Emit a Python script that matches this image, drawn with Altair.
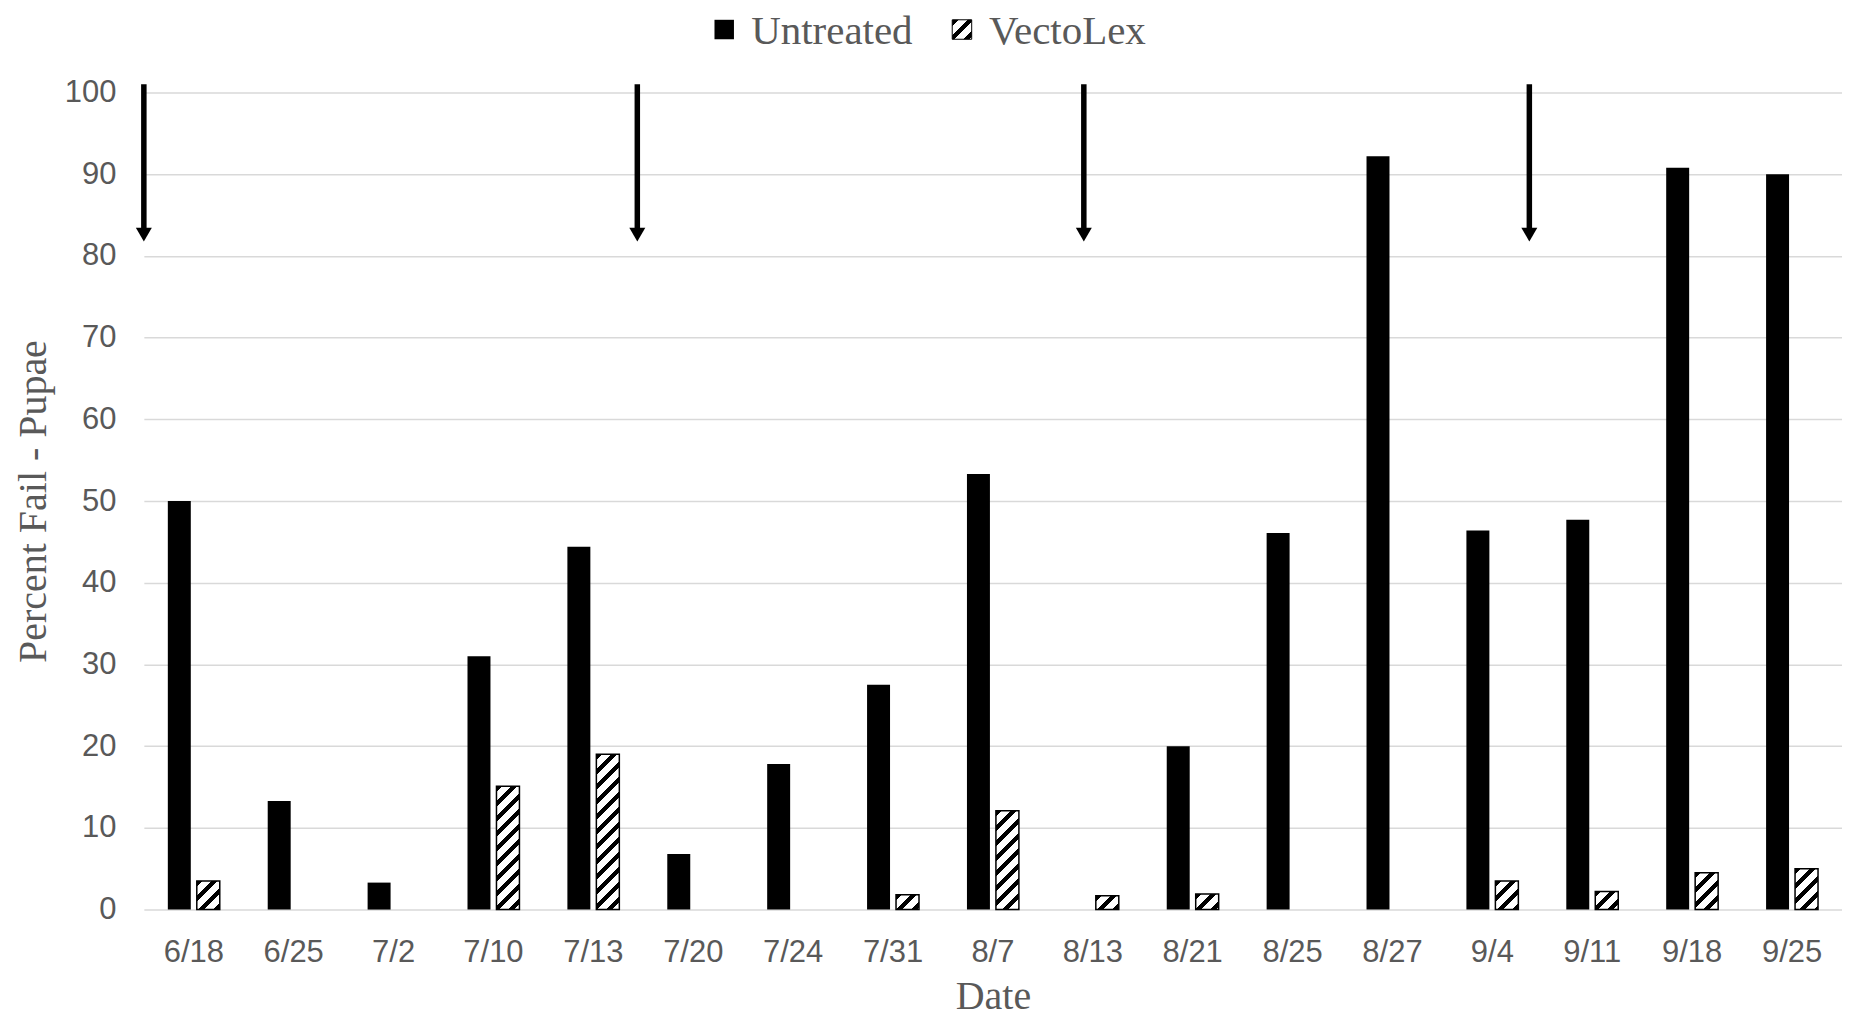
import altair as alt
import pandas as pd

# ---- data ----
dates = ["6/18", "6/25", "7/2", "7/10", "7/13", "7/20", "7/24", "7/31", "8/7",
         "8/13", "8/21", "8/25", "8/27", "9/4", "9/11", "9/18", "9/25"]
untreated = [50.0, 13.3, 3.3, 31.0, 44.4, 6.8, 17.8, 27.5, 53.3,
             0.0, 20.0, 46.1, 92.2, 46.4, 47.7, 90.8, 90.0]
vectolex = [3.5, 0.0, 0.0, 15.1, 19.0, 0.0, 0.0, 1.8, 12.1,
            1.7, 1.9, 0.0, 0.0, 3.5, 2.2, 4.5, 5.0]
series = ["Untreated", "VectoLex"]
# treatment arrows: position in category units from the left edge of the axis
arrow_pos = [0.0, 4.94, 9.41, 13.87]
arrow_top = 101.0
arrow_head_base = 83.2
arrow_tip_center = 82.6
y_ticks = list(range(0, 101, 10))

# ---- layout ----
PLOT_W = 1700
PLOT_H = 818
X_PI, X_PO = 0.48, 0.24
OFF_PI = 0.207
step = PLOT_W / (len(dates) - X_PI + 2 * X_PO)
band = step * (1 - X_PI)
off_step = band / (2 - OFF_PI)
bar_w = off_step * (1 - OFF_PI)
GREY = "#595959"


def hatch(W, H, period=15.0, frac=0.4):
    """Diagonal '/' stripes as a hard-stop linear gradient (bbox units)."""
    L = W + H
    stops = [{"offset": 0, "color": "white"}]
    k = 0
    while k * period < L:
        a = k * period / L
        b = min((k * period + frac * period) / L, 1.0)
        stops += [{"offset": a, "color": "white"}, {"offset": a, "color": "black"},
                  {"offset": b, "color": "black"}, {"offset": b, "color": "white"}]
        k += 1
    stops.append({"offset": 1, "color": "white"})
    d = W * W + H * H
    return {"gradient": "linear", "stops": stops,
            "x1": 0, "y1": 0, "x2": W * L / d, "y2": H * L / d}


df = pd.DataFrame({
    "date": dates * 2,
    "series": [series[0]] * len(dates) + [series[1]] * len(dates),
    "value": untreated + vectolex,
})

x_axis = alt.Axis(labelAngle=0, labelPadding=28, titlePadding=9, grid=False,
                  domain=False, ticks=False, tickSize=0, titleFontSize=40)
y_axis = alt.Axis(values=y_ticks, labelPadding=28, titlePadding=11, grid=True,
                  domain=False, ticks=False, tickSize=0, titleFontSize=40)
y_scale = alt.Scale(domain=[0, 100], nice=False)

x_enc = alt.X("date:N", scale=alt.Scale(domain=dates, paddingInner=X_PI, paddingOuter=X_PO),
              axis=x_axis, title="Date")
xo_enc = alt.XOffset("series:N", scale=alt.Scale(domain=series, paddingInner=OFF_PI, paddingOuter=0))


def y_enc(field="value"):
    return alt.Y(f"{field}:Q", scale=y_scale, axis=y_axis, title="Percent Fail - Pupae")


untreated_layer = alt.Chart(df).transform_filter(
    alt.datum.series == series[0]
).mark_bar(color="black").encode(x=x_enc, xOffset=xo_enc, y=y_enc())

hatched_layers = []
for d, v in zip(dates, vectolex):
    if v <= 0:
        continue
    hatched_layers.append(
        alt.Chart(df).transform_filter(
            (alt.datum.series == series[1]) & (alt.datum.date == d)
        ).mark_bar(fill=hatch(bar_w, v * PLOT_H / 100.0), stroke="black", strokeWidth=1.5)
        .encode(x=x_enc, xOffset=xo_enc, y=y_enc())
    )

bars = alt.layer(untreated_layer, *hatched_layers)

arrows_df = pd.DataFrame({
    "pos": arrow_pos,
    "top": [arrow_top] * len(arrow_pos),
    "base": [arrow_head_base] * len(arrow_pos),
    "tip": [arrow_tip_center] * len(arrow_pos),
})
ax = alt.X("pos:Q", scale=alt.Scale(domain=[0, len(dates)], nice=False, zero=False), axis=None)
shafts = alt.Chart(arrows_df).mark_rule(color="black", strokeWidth=5.5).encode(
    x=ax, y=y_enc("top"), y2="base:Q")
heads = alt.Chart(arrows_df).mark_point(shape="triangle-down", filled=True, size=256,
                                        color="black", opacity=1).encode(x=ax, y=y_enc("tip"))

# ---- legend (drawn manually so the hatched swatch can be shown) ----
leg_df = pd.DataFrame({"series": series})
leg_sq_x = [581, 819]
leg_txt_x = [608, 846]
legend_layers = []
for i, s in enumerate(series):
    fill = "black" if i == 0 else hatch(19, 19)
    legend_layers.append(
        alt.Chart(leg_df).transform_filter(alt.datum.series == s).mark_point(
            shape="square", size=380, filled=True, fill=fill, opacity=1,
            stroke="black", strokeWidth=1 if i == 1 else 0
        ).encode(x=alt.value(leg_sq_x[i]), y=alt.value(-63))
    )
    legend_layers.append(
        alt.Chart(leg_df).transform_filter(alt.datum.series == s).mark_text(
            align="left", baseline="alphabetic", font="Liberation Serif", fontSize=41, color=GREY
        ).encode(x=alt.value(leg_txt_x[i]), y=alt.value(-49), text="series:N")
    )

chart = alt.layer(bars, shafts, heads, *legend_layers).resolve_scale(
    x="independent"
).properties(
    width=PLOT_W, height=PLOT_H,
    padding={"left": 5, "top": 2, "right": 0, "bottom": 0},
    background="white",
).configure_view(stroke=None).configure_axis(
    labelFont="Liberation Sans", labelFontSize=31, labelColor=GREY,
    titleFont="Liberation Serif", titleFontSize=42, titleColor=GREY, titleFontWeight="normal",
    gridColor="#d9d9d9", gridWidth=1.5,
)

chart.save("out.html", embed_options={"renderer": "svg", "actions": False})
